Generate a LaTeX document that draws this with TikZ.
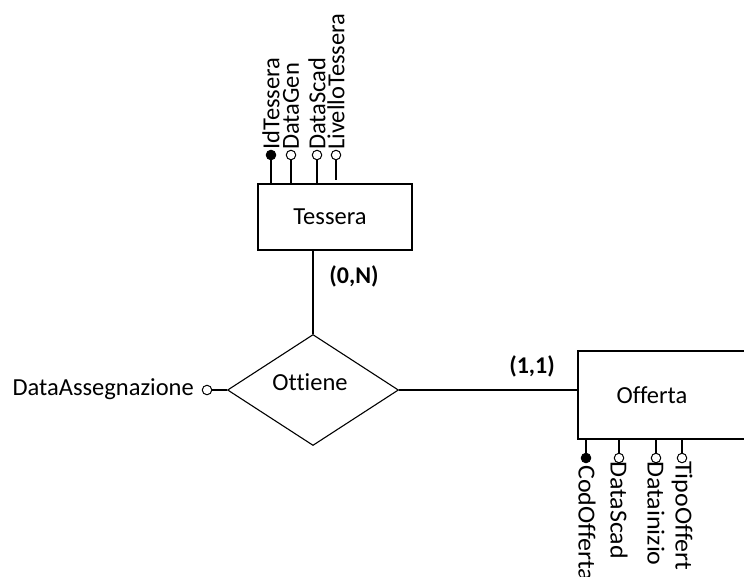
\documentclass[tikz,border=0pt]{standalone}
\usepackage{fontspec}
\setmainfont{Carlito}[Ligatures={NoCommon}]
\usetikzlibrary{shapes.geometric}
\begin{document}
\begin{tikzpicture}[x=1pt,y=-1pt,
  every node/.style={font=\fontsize{24.5}{29}\selectfont},
  edge/.style={line width=1.1pt},
  entity/.style={draw, line width=1.1pt, rectangle, inner sep=0pt},
  relation/.style={draw, line width=1.1pt, diamond, aspect=1.54, inner sep=0pt,
    minimum width=171pt, minimum height=111pt},
  attrdot/.style={draw, line width=1pt, circle, inner sep=0pt, minimum size=9.5pt, fill=white},
  keydot/.style={attrdot, fill=black},
  card/.style={font=\fontsize{24}{29}\selectfont\bfseries},
  upname/.style={rotate=90, anchor=west, inner sep=0pt},
  downname/.style={rotate=-90, anchor=west, inner sep=0pt, xscale=1.06}
]
\useasboundingbox (0,0) rectangle (744,576);
\clip (0,0) rectangle (744,576);

% entity Tessera and its attributes
\node[entity, minimum width=154pt, minimum height=66pt] (tessera) at (335,217) {};
\node (tesseraTxt) at (330,217) {Tessera};

\node[keydot]  (idT)  at (271,155) {};
\node[attrdot] (genT) at (291,155) {};
\node[attrdot] (scdT) at (317,155) {};
\node[attrdot] (livT) at (336,155) {};
\coordinate (livEnd) at (336,180);

\draw[edge] (idT.south)  -- (idT.south  |- tessera.north);
\draw[edge] (genT.south) -- (genT.south |- tessera.north);
\draw[edge] (scdT.south) -- (scdT.south |- tessera.north);
\draw[edge] (livT.south) -- (livEnd);

\node[upname] (idTxt)  at (271,150) {IdTessera};
\node[upname] (genTxt) at (291,150) {DataGen};
\node[upname] (scdTxt) at (317,150) {DataScad};
\node[upname] (livTxt) at (336,150) {LivelloTessera};

% relationship Ottiene
\node[relation] (ottiene) at (313,390) {};
\node (ottieneTxt) at (310,382) {Ottiene};

\draw[edge] (ottiene.north) -- (ottiene.north |- tessera.south);

\node[attrdot] (dataAss) at (207,390) {};
\node[anchor=east, inner sep=0pt] (dataAssTxt) at (194,389) {DataAssegnazione};
\draw[edge] (dataAss.east) -- (ottiene.west);

% entity Offerta and its attributes
\node[entity, minimum width=222pt, minimum height=88pt] (offerta) at (689,395) {};
\node (offertaTxt) at (652,395) {Offerta};

\draw[edge] (ottiene.east) -- (ottiene.east -| offerta.west);

\node[card] (cardA) at (354,276) {(0,N)};
\node[card] (cardB) at (532,366) {(1,1)};

\node[keydot]  (codO) at (586,458) {};
\node[attrdot] (scdO) at (619,458) {};
\node[attrdot] (iniO) at (656,458) {};
\node[attrdot] (tipO) at (682,458) {};

\draw[edge] (codO.north) -- (codO.north |- offerta.south);
\draw[edge] (scdO.north) -- (scdO.north |- offerta.south);
\draw[edge] (iniO.north) -- (iniO.north |- offerta.south);
\draw[edge] (tipO.north) -- (tipO.north |- offerta.south);

\node[downname] (codTxt) at (587,465) {CodOfferta};
\node[downname] (scdOTxt) at (619,461) {DataScad};
\node[downname] (iniTxt) at (656,461) {Datainizio};
\node[downname] (tipTxt) at (682,461) {TipoOffert};
\end{tikzpicture}
\end{document}
